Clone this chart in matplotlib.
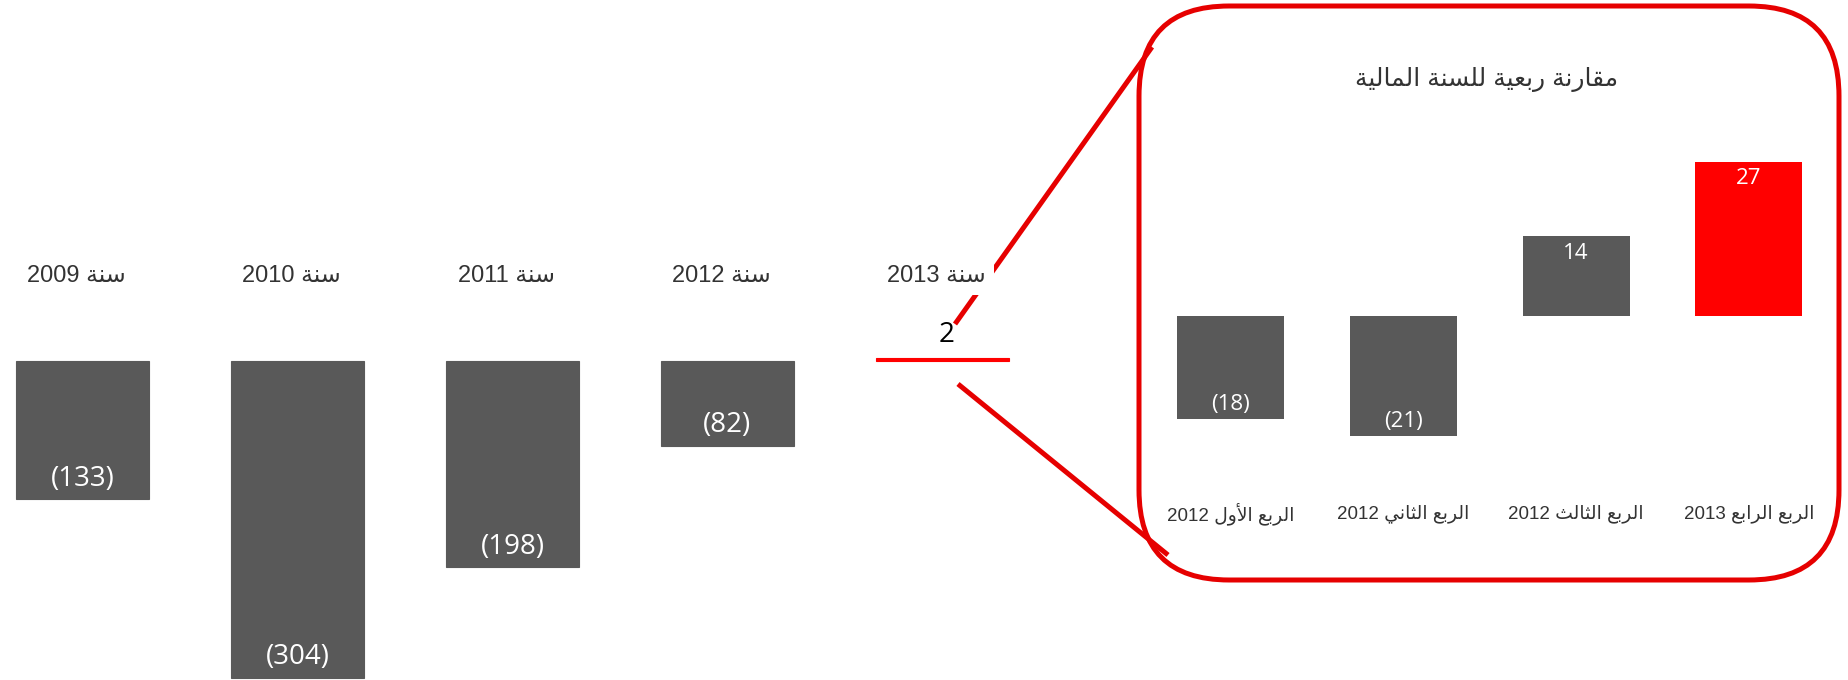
import matplotlib
matplotlib.use('Agg')
import matplotlib.pyplot as plt
from matplotlib.lines import Line2D
from matplotlib.patches import FancyBboxPatch
from matplotlib.transforms import IdentityTransform

# yearly results (negative = loss, shown in brackets)
years = ['سنة 2009', 'سنة 2010', 'سنة 2011', 'سنة 2012', 'سنة 2013']
year_values = [-133, -304, -198, -82, 2]

# quarterly comparison for the financial year
quarters = ['الربع الأول 2012', 'الربع الثاني 2012', 'الربع الثالث 2012', 'الربع الرابع 2013']
quarter_values = [-18, -21, 14, 27]
panel_title = 'مقارنة ربعية للسنة المالية'

GREY = '#595959'
RED = '#FF0000'
BORDER = '#E60000'
TEXT = '#333333'

# --- tiny arabic shaper (matplotlib has no shaping / bidi) ---
FORMS = {
    'ا': ('\uFE8D', '\uFE8E', None, None),
    'أ': ('\uFE83', '\uFE84', None, None),
    'ب': ('\uFE8F', '\uFE90', '\uFE91', '\uFE92'),
    'ة': ('\uFE93', '\uFE94', None, None),
    'ث': ('\uFE99', '\uFE9A', '\uFE9B', '\uFE9C'),
    'ر': ('\uFEAD', '\uFEAE', None, None),
    'س': ('\uFEB1', '\uFEB2', '\uFEB3', '\uFEB4'),
    'ع': ('\uFEC9', '\uFECA', '\uFECB', '\uFECC'),
    'ق': ('\uFED5', '\uFED6', '\uFED7', '\uFED8'),
    'ل': ('\uFEDD', '\uFEDE', '\uFEDF', '\uFEE0'),
    'م': ('\uFEE1', '\uFEE2', '\uFEE3', '\uFEE4'),
    'ن': ('\uFEE5', '\uFEE6', '\uFEE7', '\uFEE8'),
    'و': ('\uFEED', '\uFEEE', None, None),
    'ي': ('\uFEF1', '\uFEF2', '\uFEF3', '\uFEF4'),
}
LAM_ALEF = {'ا': ('\uFEFB', '\uFEFC'), 'أ': ('\uFEF7', '\uFEF8')}


def shape_word(w):
    out = []
    i = 0
    n = len(w)
    while i < n:
        c = w[i]
        if c not in FORMS:
            out.append(c)
            i += 1
            continue
        prev_joins = i > 0 and w[i - 1] in FORMS and FORMS[w[i - 1]][2] is not None
        if c == 'ل' and i + 1 < n and w[i + 1] in LAM_ALEF:
            out.append(LAM_ALEF[w[i + 1]][1 if prev_joins else 0])
            i += 2
            continue
        iso, fin, ini, med = FORMS[c]
        next_joins = ini is not None and i + 1 < n and w[i + 1] in FORMS
        if prev_joins and next_joins:
            out.append(med)
        elif prev_joins:
            out.append(fin)
        elif next_joins:
            out.append(ini)
        else:
            out.append(iso)
        i += 1
    return ''.join(reversed(out))


def ar(text):
    words = [shape_word(w) if any(ch in FORMS for ch in w) else w
             for w in text.split(' ')]
    return ' '.join(reversed(words))


def fmt(v):
    return '(%d)' % abs(v) if v < 0 else '%d' % v


AR_FONT = ['Liberation Sans', 'DejaVu Sans']

W, H = 1848, 680
fig = plt.figure(figsize=(W / 100, H / 100), dpi=100)
fig.patch.set_facecolor('white')

# ---------- left: yearly bars ----------
ax1 = fig.add_axes([0, 0, 1100 / W, 1])
ax1.set_facecolor('none')
ax1.axis('off')
x0 = -82.5 / 215
ax1.set_xlim(x0, x0 + 1100 / 215)
ax1.set_ylim(-319.5 / 1.045, 360.5 / 1.045)

xs = list(range(len(years)))
colors = [RED if v > 0 else GREY for v in year_values]
ax1.bar(xs, year_values, width=0.62, color=colors, edgecolor=colors, linewidth=0.8, zorder=2)

for x, v, lab in zip(xs, year_values, years):
    ax1.text(x - 0.03, 81, ar(lab), ha='center', va='center', fontsize=17,
             family=AR_FONT, color=TEXT, zorder=4,
             bbox=dict(boxstyle='square,pad=0.35', fc='white', ec='none'))
    if v < 0:
        ax1.text(x, v + 20, fmt(v), ha='center', va='center', fontsize=20,
                 family='Open Sans', color='white', zorder=4)
    else:
        ax1.text(x + 0.02, v + 22, fmt(v), ha='center', va='center', fontsize=20,
                 family='Open Sans', color='black', zorder=4)

# connector lines from the 2013 bar to the zoom panel
def fpx(x, y):
    return x / W, 1 - y / H

for (xa, ya), (xb, yb) in [((955, 324), (1152, 47)), ((958, 384), (1168, 555))]:
    p, q = fpx(xa, ya), fpx(xb, yb)
    ax1.add_line(Line2D([p[0], q[0]], [p[1], q[1]], transform=fig.transFigure,
                        color=BORDER, lw=3.6, clip_on=False, zorder=1,
                        solid_capstyle='butt'))

# ---------- right: quarterly panel ----------
ax2 = fig.add_axes([1100 / W, 0, 748 / W, 1])
ax2.set_facecolor('none')
ax2.axis('off')
q0 = -(1230.5 - 1100) / 172.8
ax2.set_xlim(q0, q0 + 748 / 172.8)
ax2.set_ylim(-364 / 5.72, 316 / 5.72)

qx = list(range(len(quarters)))
qcolors = [GREY] * (len(quarters) - 1) + [RED]
ax2.bar(qx, quarter_values, width=0.62, color=qcolors, zorder=2)

for x, v, lab in zip(qx, quarter_values, quarters):
    ax2.text(x, -34.6, ar(lab), ha='center', va='center', fontsize=13.5,
             family=AR_FONT, color=TEXT)
    yv = v + 2.6 if v < 0 else v - 3.0
    ax2.text(x, yv, fmt(v), ha='center', va='center', fontsize=16,
             family='Open Sans', color='white', zorder=4)

ax2.text(1.48, 41.3, ar(panel_title), ha='center', va='center', fontsize=18,
         family=AR_FONT, color=TEXT)

border = FancyBboxPatch((1139, H - 580), 700, 574,
                        boxstyle='round,pad=0,rounding_size=90',
                        transform=IdentityTransform(), fc='none', ec=BORDER, lw=3.6)
fig.add_artist(border)

fig.savefig('out.png', dpi=100, facecolor='white')
